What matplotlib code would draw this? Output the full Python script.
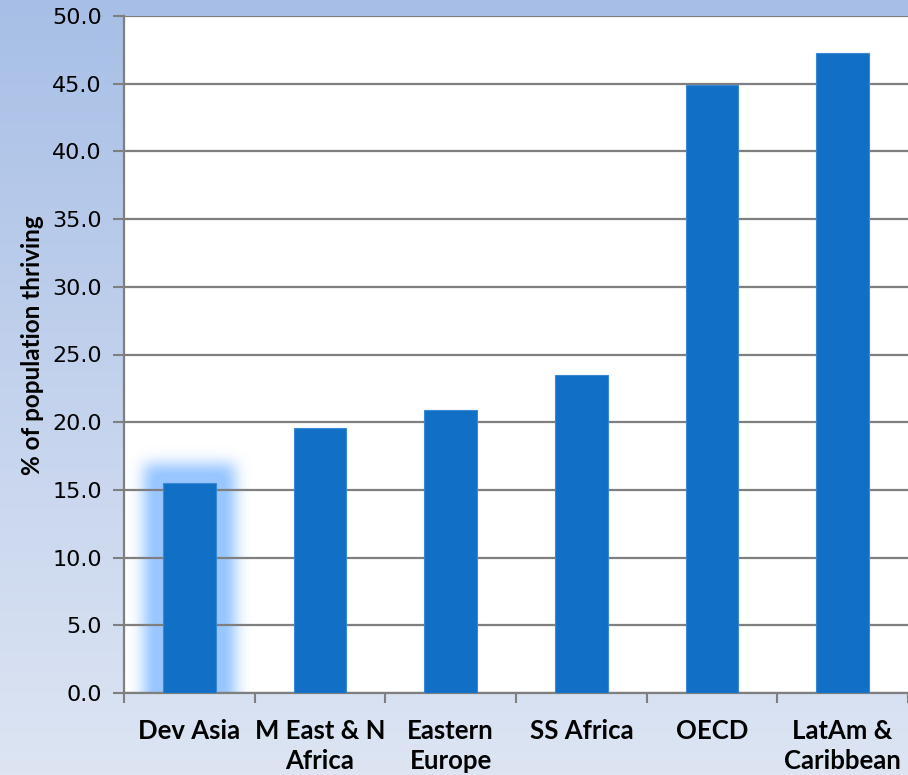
import numpy as np
import matplotlib
matplotlib.use("Agg")
import matplotlib.pyplot as plt
from matplotlib.colors import LinearSegmentedColormap, to_rgb
from matplotlib.ticker import FormatStrFormatter, FixedLocator

categories = ["Dev Asia", "M East & N\nAfrica", "Eastern\nEurope", "SS Africa", "OECD", "LatAm &\nCaribbean"]
values = [15.5, 19.6, 20.9, 23.5, 44.9, 47.3]
yticks = [0, 5, 10, 15, 20, 25, 30, 35, 40, 45, 50]

W, H = 908, 775
fig = plt.figure(figsize=(W / 100, H / 100), dpi=100)

# background gradient
bg = fig.add_axes([0, 0, 1, 1], zorder=-10)
grad = np.linspace(0, 1, 256).reshape(-1, 1)
cmap = LinearSegmentedColormap.from_list("bg", ["#A7BFE6", "#C3D2ED", "#DDE5F3"])
bg.imshow(grad, aspect="auto", cmap=cmap, extent=[0, 1, 0, 1], origin="upper")
bg.axis("off")

left = 124 / W
right = 908 / W
bottom = 1 - 693 / H
top = 1 - 16 / H
ax = fig.add_axes([left, bottom, right - left, top - bottom])
ax.set_facecolor("white")

x = np.arange(len(categories))
bw = 0.405
bar_color = "#1170C6"
ax.set_xlim(-0.5, len(categories) - 0.5)
ax.set_ylim(0, 50)

# soft glow around the first bar (pixel-based blur)
px_per_x = (right - left) * W / len(categories)
px_per_y = (top - bottom) * H / 50.0
gx0, gx1 = x[0] - 0.5, x[0] + 0.5
gy0, gy1 = 0.0, values[0] + 5.0
nx = int(round((gx1 - gx0) * px_per_x))
ny = int(round((gy1 - gy0) * px_per_y))
xs = gx0 + (np.arange(nx) + 0.5) / px_per_x
ys = gy0 + (np.arange(ny) + 0.5) / px_per_y
XX, YY = np.meshgrid(xs, ys)
grow = 19.0
mask = ((np.abs(XX - x[0]) * px_per_x <= bw / 2 * px_per_x + grow) &
        (YY * px_per_y <= values[0] * px_per_y + grow)).astype(float)
sigma = 7.5
k = np.arange(-30, 31)
kern = np.exp(-k ** 2 / (2 * sigma ** 2))
kern /= kern.sum()
pad = 35
m = np.pad(mask, pad, mode="constant")
m[:pad, :] = m[pad:pad + 1, :]
m = np.apply_along_axis(lambda r: np.convolve(r, kern, mode="same"), 1, m)
m = np.apply_along_axis(lambda c: np.convolve(c, kern, mode="same"), 0, m)
m = m[pad:-pad, pad:-pad]
rgba = np.zeros((ny, nx, 4))
rgba[..., :3] = to_rgb("#90C2FF")
rgba[..., 3] = np.clip(m * 1.0, 0, 0.92)
ax.imshow(rgba, extent=[gx0, gx1, gy0, gy1], origin="lower", aspect="auto",
          zorder=0.3, interpolation="bilinear")

ax.bar(x, values, width=bw, color=bar_color, edgecolor="#3A88D4", linewidth=0.8, zorder=3)

ax.set_xlim(-0.5, len(categories) - 0.5)
ax.set_ylim(0, 50)
ax.yaxis.set_major_locator(FixedLocator(yticks))
ax.yaxis.set_major_formatter(FormatStrFormatter("%.1f"))
ax.yaxis.grid(True, color="#7F7F7F", linewidth=1.6)
ax.set_axisbelow(True)

ax.set_xticks(x)
ax.set_xticklabels(categories, fontfamily="Lato", fontweight="bold", fontsize=18.5,
                   linespacing=1.3)
ax.xaxis.set_minor_locator(FixedLocator(np.arange(-0.5, len(categories), 1.0)))
ax.tick_params(axis="x", which="major", length=0, pad=19)
ax.tick_params(axis="x", which="minor", length=7, width=1.5, color="#7F7F7F")
ax.tick_params(axis="y", length=8, width=1.5, color="#7F7F7F", labelsize=16, pad=8)
for lab in ax.get_yticklabels():
    lab.set_fontfamily("DejaVu Sans")

for s in ["top", "right"]:
    ax.spines[s].set_visible(False)
for s in ["left", "bottom"]:
    ax.spines[s].set_color("#7F7F7F")
    ax.spines[s].set_linewidth(1.6)

fig.text(33 / W, 1 - 345 / H, "% of population thriving", rotation=90,
         ha="center", va="center", fontfamily="Lato", fontweight="bold", fontsize=17.5)

fig.savefig("out.png", dpi=100)
